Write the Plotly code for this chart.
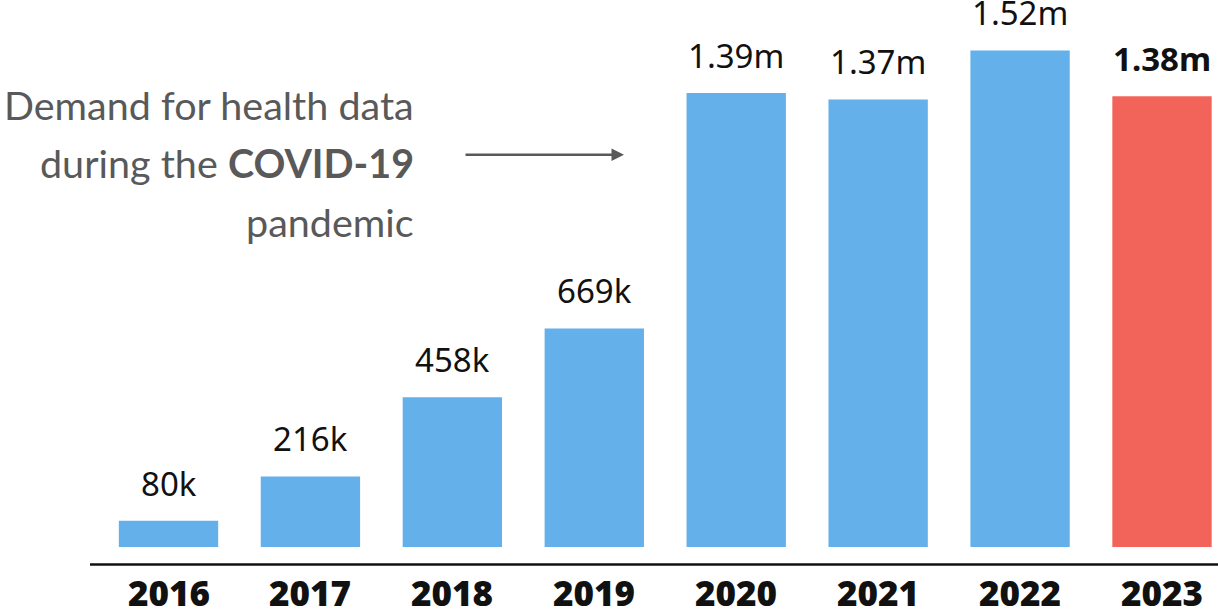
import plotly.graph_objects as go

years = [2016, 2017, 2018, 2019, 2020, 2021, 2022, 2023]
values_m = [0.080, 0.216, 0.458, 0.669, 1.39, 1.37, 1.52, 1.38]
value_labels = ["80k", "216k", "458k", "669k", "1.39m", "1.37m", "1.52m", "1.38m"]
colors = ["#64B0EA"] * 7 + ["#F2645A"]
note_lines = ["Demand for health data", "during the <b>COVID-19</b>", "pandemic"]

W, H = 1218, 609
base_px = 547.5
px_per_m = 327.0

fig = go.Figure(go.Bar(x=years, y=values_m, marker_color=colors, marker_line_width=0,
                       width=0.7, hoverinfo="skip"))


def py(pix):
    # pixel from top of figure -> paper y (plot area spans 0..base_px)
    return 1 - pix / base_px


annotations = []
for i, (yr, v, lab) in enumerate(zip(years, values_m, value_labels)):
    txt = f"<b>{lab}</b>" if i == len(years) - 1 else lab
    annotations.append(dict(x=yr, y=v, xref="x", yref="y", text=txt, showarrow=False,
                            yanchor="bottom", yshift=13,
                            font=dict(family="Noto Sans", size=33, color="#111111")))
    annotations.append(dict(x=yr, y=0, xref="x", yref="y", text=str(yr), showarrow=False,
                            yanchor="middle", yshift=-45,
                            font=dict(family="Noto Sans", size=35, color="#111111", weight=900)))

line_y = [105, 163, 222]
for t, ly in zip(note_lines, line_y):
    annotations.append(dict(x=416 / W, y=py(ly), xref="paper", yref="paper", text=t,
                            showarrow=False, xanchor="right", yanchor="middle",
                            font=dict(family="Lato", size=39.5, color="#595959")))

# arrow
annotations.append(dict(x=624 / W, y=py(155), xref="paper", yref="paper", text="",
                        showarrow=True, arrowhead=2, arrowsize=1, arrowwidth=2.5,
                        arrowcolor="#595959", ax=-160, ay=0))

# x range derived from pixel layout
px_per_unit = 141.93
x0 = 2016 - 168.5 / px_per_unit
x1 = 2023 + (W - 1162) / px_per_unit

fig.update_layout(
    width=W, height=H,
    margin=dict(l=0, r=0, t=0, b=H - base_px),
    paper_bgcolor="white", plot_bgcolor="white",
    showlegend=False,
    xaxis=dict(range=[x0, x1], visible=False),
    yaxis=dict(range=[0, base_px / px_per_m], visible=False),
    annotations=annotations,
    shapes=[dict(type="line", xref="paper", yref="paper", x0=90 / W, x1=1,
                 y0=py(565), y1=py(565),
                 line=dict(color="#111111", width=2.5))],
)

fig.write_html("out.html", config={"displayModeBar": False},
               post_script="document.body.style.margin='0';document.body.style.overflow='hidden';")
